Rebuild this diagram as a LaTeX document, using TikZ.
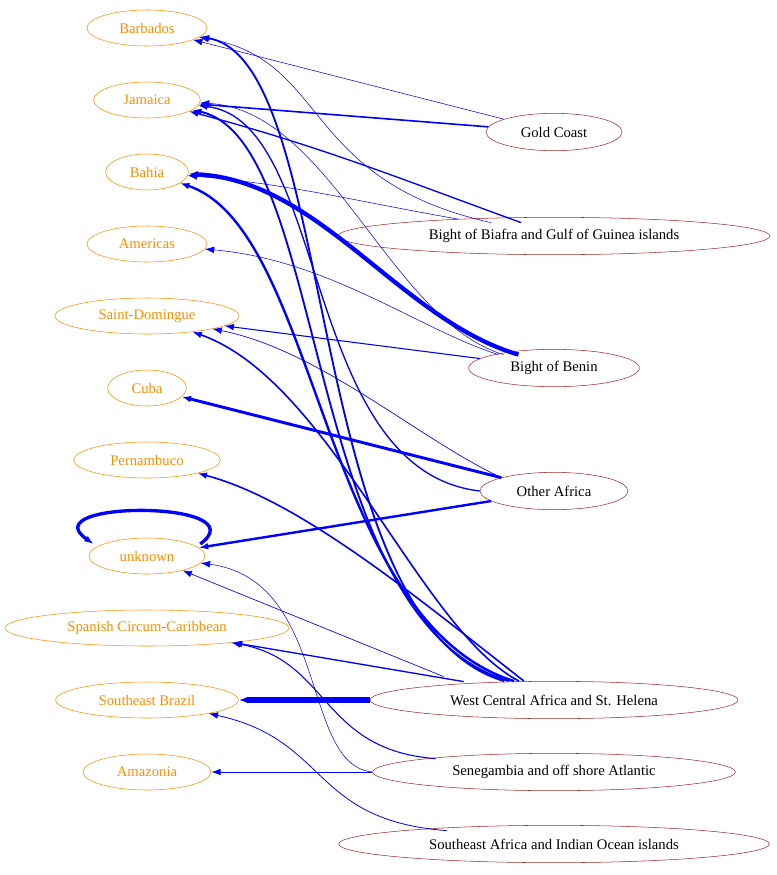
\documentclass[tikz,border=0pt]{standalone}
\usepackage{fontspec}
\setmainfont{Liberation Serif}
\usepackage{tikz}
\usetikzlibrary{arrows.meta,shapes.geometric,calc}
\definecolor{gvbrown}{HTML}{A52A2A}
\definecolor{gvorange}{HTML}{FF8C00}
\tikzset{
  dest/.style={ellipse,draw=gvorange,text=gvorange,inner sep=0pt,minimum height=27pt,font=\fontsize{11}{13}\selectfont},
  orig/.style={ellipse,draw=gvbrown,text=black,inner sep=0pt,minimum height=28pt,font=\fontsize{11}{13}\selectfont},
  flow/.style={draw=blue,-{Latex[length=7pt,width=5pt]}},
}
\begin{document}
\begin{tikzpicture}[x=0.75pt,y=-0.75pt]
  \useasboundingbox (0,0) rectangle (776,875);
  \begin{scope}[every node/.style={dest}]
    \node[minimum width=90pt] (barb) at (147,28) {Barbados};
    \node[minimum width=80pt] (jam) at (147,100) {Jamaica};
    \node[minimum width=62pt] (bah) at (147,172) {Bahia};
    \node[minimum width=90pt] (amer) at (147,244) {Americas};
    \node[minimum width=138pt] (sdom) at (147,316) {Saint-Domingue};
    \node[minimum width=59pt] (cuba) at (147,388) {Cuba};
    \node[minimum width=110pt] (pern) at (147,460) {Pernambuco};
    \node[minimum width=87pt] (unk) at (147,556) {unknown};
    \node[minimum width=213pt] (span) at (147,628) {Spanish Circum-Caribbean};
    \node[minimum width=137pt] (seb) at (147,700) {Southeast Brazil};
    \node[minimum width=96pt] (amaz) at (147,772) {Amazonia};
  \end{scope}
  \begin{scope}[every node/.style={orig}]
    \node[minimum width=102pt] (gold) at (554,132) {Gold Coast};
    \node[minimum width=324pt] (biaf) at (554,236) {Bight of Biafra and Gulf of Guinea islands};
    \node[minimum width=128pt] (benin) at (554,368) {Bight of Benin};
    \node[minimum width=111pt] (other) at (554,491) {Other Africa};
    \node[minimum width=276pt] (wca) at (554,700) {West Central Africa and St. Helena};
    \node[minimum width=272pt] (seneg) at (554,772) {Senegambia and off shore Atlantic};
    \node[minimum width=323pt] (sea) at (554,844) {Southeast Africa and Indian Ocean islands};
  \end{scope}
  % Gold Coast
  \draw[flow,line width=0.4pt] (gold) to (barb);
  \draw[flow,line width=1.2pt] (gold) to (jam);
  % Biafra
  \draw[flow,line width=1pt] ($(biaf.north west)+(120,0)$) to[out=160,in=-15] (jam);
  \draw[flow,line width=0.4pt] (biaf) to[out=170,in=-5] (bah);
  \draw[flow,line width=0.4pt] ($(biaf.north west)+(90,0)$) .. controls (300,180) and (330,60) .. (barb);
  % Benin
  \draw[flow,line width=3.2pt] ($(benin.north west)+(25,0)$) .. controls (400,320) and (320,180) .. (bah);
  \draw[flow,line width=0.8pt] (benin) to (sdom);
  \draw[flow,line width=0.4pt] ($(benin.north west)+(5,0)$) .. controls (420,330) and (330,260) .. (amer);
  \draw[flow,line width=0.4pt] ($(benin.north west)+(10,0)$) .. controls (390,320) and (330,110) .. (jam);
  % Other Africa
  \draw[flow,line width=2.2pt] (other) to (cuba);
  \draw[flow,line width=1.8pt] (other) to (unk);
  \draw[flow,line width=0.5pt] (other.north west) .. controls (420,440) and (320,350) .. (sdom);
  \draw[flow,line width=1pt] (other.west) .. controls (300,470) and (330,120) .. (jam);
  % West Central Africa
  \draw[flow,line width=5pt] (wca) to (seb);
  \draw[flow,line width=1pt] ($(wca.north west)+(40,-5)$) to (span);
  \draw[flow,line width=0.5pt] ($(wca.north west)+(20,-10)$) to (unk);
  \draw[flow,line width=1.2pt] ($(wca.north)+(-30,0)$) .. controls (420,600) and (300,500) .. (pern);
  \draw[flow,line width=1.2pt] ($(wca.north)+(-35,0)$) .. controls (420,630) and (330,380) .. (sdom);
  \draw[flow,line width=1.8pt] ($(wca.north)+(-40,0)$) .. controls (320,620) and (320,230) .. (bah);
  \draw[flow,line width=1.4pt] ($(wca.north)+(-45,0)$) .. controls (300,620) and (330,140) .. (jam);
  \draw[flow,line width=1.4pt] ($(wca.north)+(-50,0)$) .. controls (300,620) and (340,60) .. (barb);
  % Senegambia
  \draw[flow,line width=0.7pt] (seneg) to (amaz);
  \draw[flow,line width=0.8pt] ($(seneg.north west)+(10,0)$) .. controls (320,750) and (330,660) .. (span);
  \draw[flow,line width=0.4pt] (seneg.west) .. controls (300,765) and (330,580) .. (unk);
  % Southeast Africa
  \draw[flow,line width=0.6pt] ($(sea.north west)+(45,0)$) .. controls (310,820) and (330,740) .. (seb);
  % unknown
  \coordinate (loopa) at ($(unk.east)+(-5,-12)$);
  \coordinate (loopb) at ($(unk.west)+(5,-12)$);
  \draw[flow,line width=2.5pt] (loopa) .. controls (260,500) and (30,500) .. (loopb);
\end{tikzpicture}
\end{document}
